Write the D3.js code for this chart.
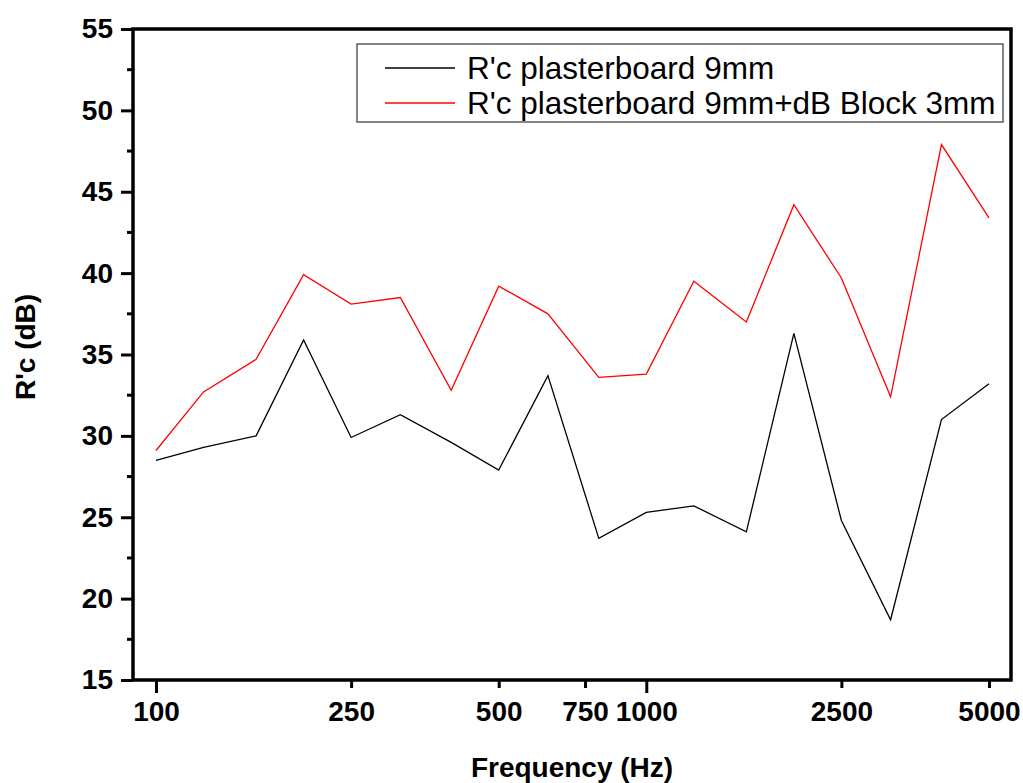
<!DOCTYPE html>
<html>
<head>
<meta charset="utf-8">
<script src="https://cdn.jsdelivr.net/npm/d3@7"></script>
<style>
  body { margin: 0; background: #fff; }
  text { font-family: Arial, "Liberation Sans", sans-serif; }
</style>
</head>
<body>
<svg width="1023" height="783"></svg>
<script>
// one-third octave bands
var freqs = [100, 125, 160, 200, 250, 315, 400, 500, 630, 800, 1000, 1250, 1600, 2000, 2500, 3150, 4000, 5000];
var plaster9 = [28.5, 29.3, 30.0, 35.9, 29.9, 31.3, 29.6, 27.9, 33.7, 23.7, 25.3, 25.7, 24.1, 36.3, 24.8, 18.7, 31.0, 33.2];
var plaster9Block = [29.1, 32.7, 34.7, 39.9, 38.1, 38.5, 32.8, 39.2, 37.5, 33.6, 33.8, 39.5, 37.0, 44.2, 39.7, 32.4, 47.9, 43.4];
var xTickVals = [100, 250, 500, 750, 1000, 2500, 5000];
var yTickVals = [15, 20, 25, 30, 35, 40, 45, 50, 55];
var seriesNames = ["R'c plasterboard 9mm", "R'c plasterboard 9mm+dB Block 3mm"];
var seriesColors = ["#000000", "#ff0000"];

var svg = d3.select("svg");
var mLeft = 133, mRight = 1011, mTop = 29, mBottom = 680;

var x = d3.scaleLog().domain([89.75, 5545]).range([mLeft, mRight]);
var y = d3.scaleLinear().domain([15, 55]).range([mBottom, mTop]);

// data lines
var line = d3.line()
    .x(function (d, i) { return x(freqs[i]); })
    .y(function (d) { return y(d); });

[plaster9, plaster9Block].forEach(function (s, k) {
    svg.append("path")
        .attr("d", line(s))
        .attr("fill", "none")
        .attr("stroke", seriesColors[k])
        .attr("stroke-width", 1.3);
});

// y axis
var yAxis = svg.append("g")
    .attr("transform", "translate(" + mLeft + ",0)")
    .call(d3.axisLeft(y).tickValues(yTickVals).tickSize(12).tickPadding(8));
yAxis.select(".domain").remove();
yAxis.selectAll("line").attr("stroke-width", 3);
yAxis.selectAll("text")
    .attr("font-size", 28).attr("font-weight", "bold").attr("fill", "#000")
    .attr("font-family", "Arial, 'Liberation Sans', sans-serif");

var yMinor = d3.range(17.5, 55, 5);
svg.append("g").selectAll("line").data(yMinor).enter().append("line")
    .attr("x1", mLeft - 6).attr("x2", mLeft)
    .attr("y1", function (d) { return y(d); })
    .attr("y2", function (d) { return y(d); })
    .attr("stroke", "#000").attr("stroke-width", 3);

// x axis
var xAxis = svg.append("g")
    .attr("transform", "translate(0," + mBottom + ")")
    .call(d3.axisBottom(x).tickValues(xTickVals).tickFormat(d3.format("d")).tickSize(8).tickPadding(13));
xAxis.select(".domain").remove();
xAxis.selectAll("line")
    .attr("stroke-width", 3)
    .attr("y2", function (d) { return (d === 100 || d === 1000) ? 13 : 8; });
xAxis.selectAll("text")
    .attr("font-size", 28).attr("font-weight", "bold").attr("fill", "#000")
    .attr("font-family", "Arial, 'Liberation Sans', sans-serif");

// frame
svg.append("rect")
    .attr("x", mLeft).attr("y", mTop)
    .attr("width", mRight - mLeft).attr("height", mBottom - mTop)
    .attr("fill", "none").attr("stroke", "#000").attr("stroke-width", 3.5);

// axis titles
svg.append("text")
    .attr("x", 572).attr("y", 777)
    .attr("text-anchor", "middle")
    .attr("font-size", 28).attr("font-weight", "bold")
    .text("Frequency (Hz)");

svg.append("text")
    .attr("transform", "translate(35,347) rotate(-90)")
    .attr("text-anchor", "middle")
    .attr("font-size", 28).attr("font-weight", "bold")
    .text("R'c (dB)");

// legend
var legend = svg.append("g");
legend.append("rect")
    .attr("x", 357).attr("y", 44).attr("width", 646).attr("height", 78)
    .attr("fill", "#fff").attr("stroke", "#444").attr("stroke-width", 1.3);
seriesNames.forEach(function (name, k) {
    var ly = 68 + k * 35;
    legend.append("line")
        .attr("x1", 385).attr("x2", 455).attr("y1", ly).attr("y2", ly)
        .attr("stroke", seriesColors[k]).attr("stroke-width", 1.3);
    legend.append("text")
        .attr("x", 467).attr("y", ly + 11)
        .attr("font-size", 31.5)
        .text(name);
});
</script>
</body>
</html>
